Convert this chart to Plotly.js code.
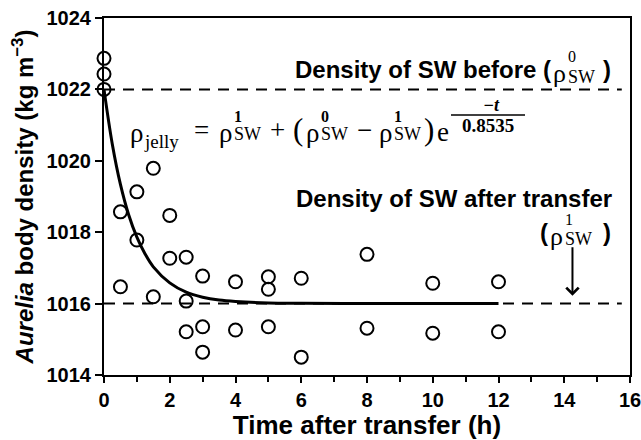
<!DOCTYPE html>
<html>
<head>
<meta charset="utf-8">
<script src="https://cdn.plot.ly/plotly-3.0.1.min.js"></script>
<style>html,body{margin:0;padding:0;background:#fff;}</style>
</head>
<body>
<div id="chart" style="width:641px;height:440px;"></div>
<script>
// ---- data ----
const obsTime = [0, 0, 0,
  0.5, 0.5, 1, 1, 1.5, 1.5, 2, 2,
  2.5, 2.5, 2.5, 3, 3, 3, 4, 4,
  5, 5, 5, 6, 6, 8, 8, 10, 10, 12, 12];
const obsDensity = [1022.87, 1022.43, 1022.0,
  1018.57, 1016.47, 1019.13, 1017.78, 1019.79, 1016.19, 1018.47, 1017.27,
  1017.30, 1016.07, 1015.21, 1016.77, 1015.35, 1014.64, 1016.61, 1015.26,
  1016.75, 1016.40, 1015.35, 1016.71, 1014.50, 1017.38, 1015.31, 1016.57, 1015.17, 1016.61, 1015.21];
// fitted curve
const fitTime = [0, 0.25, 0.5, 0.75, 1, 1.25, 1.5, 2, 2.5, 3, 3.5, 4, 5, 6, 8, 10, 12];
const fitDensity = [1022.00, 1020.48, 1019.34, 1018.49, 1017.86, 1017.39, 1017.03, 1016.58,
  1016.32, 1016.18, 1016.10, 1016.06, 1016.02, 1016.01, 1016.00, 1016.00, 1016.00];
// reference seawater densities (dashed lines)
const refTime = [0, 15.75];
const densityBefore = [1022, 1022];
const densityAfter = [1016, 1016];
const arrowTime = [14.25, 14.25];
const arrowDensity = [1017.62, 1016.22];
const xTicks = [0, 2, 4, 6, 8, 10, 12, 14, 16];
const yTicks = [1014, 1016, 1018, 1020, 1022, 1024];

const SANS = "Liberation Sans, Arial, sans-serif";
const SERIF = "Liberation Serif, Times New Roman, serif";
const L = 104, R = 11, T = 18, B = 65, W = 641, H = 440;
const PW = W - L - R, PH = H - T - B;

function ann(text, px, py, size, family, extra) {
  return Object.assign({
    xref: 'paper', yref: 'paper',
    x: (px - L) / PW, y: (H - B - py) / PH,
    text: text, showarrow: false, xanchor: 'left', yanchor: 'middle',
    borderpad: 0,
    font: {family: family, size: size, color: 'black'}
  }, extra || {});
}

const traces = [
  {x: refTime, y: densityBefore, mode: 'lines', line: {color: 'black', width: 2, dash: '11px,8px'}, hoverinfo: 'skip'},
  {x: refTime, y: densityAfter, mode: 'lines', line: {color: 'black', width: 2, dash: '11px,8px'}, hoverinfo: 'skip'},
  {x: fitTime, y: fitDensity, mode: 'lines', line: {color: 'black', width: 3, shape: 'spline'}},
  {x: obsTime, y: obsDensity, mode: 'markers', cliponaxis: false,
   marker: {symbol: 'circle-open', size: 13, color: 'black', line: {width: 2, color: 'black'}}}
];

const C = {xanchor: 'center'};
const annotations = [
  // before label
  ann('<b>Density of SW before (</b>', 552, 69, 24, SANS, {xanchor: 'right'}),
  ann('ρ', 552, 73, 26, SERIF),
  ann('0', 567, 57, 16, SERIF),
  ann('SW', 567, 77, 18, SERIF),
  ann('<b>)</b>', 602, 69, 24, SANS),
  // after label
  ann('<b>Density of SW after transfer</b>', 613, 198, 24, SANS, {xanchor: 'right'}),
  ann('<b>(</b>', 539, 232, 24, SANS),
  ann('ρ', 549, 236, 26, SERIF),
  ann('1', 564, 219, 16, SERIF),
  ann('SW', 564, 239, 18, SERIF),
  ann('<b>)</b>', 602, 232, 24, SANS),
  // equation
  ann('ρ', 129, 133, 27, SERIF),
  ann('jelly', 143, 141, 19, SERIF),
  ann('=', 201, 130, 27, SERIF, C),
  ann('ρ', 218, 133, 27, SERIF),
  ann('<b>1</b>', 233, 116, 16, SERIF),
  ann('SW', 233, 134, 18, SERIF),
  ann('+', 277, 130, 27, SERIF, C),
  ann('(', 298, 129, 31, SERIF, C),
  ann('ρ', 305, 133, 27, SERIF),
  ann('<b>0</b>', 320, 116, 16, SERIF),
  ann('SW', 320, 134, 18, SERIF),
  ann('−', 364, 130, 27, SERIF, C),
  ann('ρ', 378, 133, 27, SERIF),
  ann('<b>1</b>', 393, 116, 16, SERIF),
  ann('SW', 393, 134, 18, SERIF),
  ann(')', 429, 129, 31, SERIF, C),
  ann('e', 436, 132, 27, SERIF),
  ann('<b><i>−t</i></b>', 491, 105, 18, SERIF, C),
  ann('<b>0.8535</b>', 488, 125, 19, SERIF, C),
  // arrow to the after-transfer line
  {xref: 'x', yref: 'y', axref: 'x', ayref: 'y',
   x: arrowTime[1], y: arrowDensity[1], ax: arrowTime[0], ay: arrowDensity[0],
   text: '', showarrow: true, arrowhead: 4, arrowsize: 1.2, arrowwidth: 2, arrowcolor: 'black', standoff: 0}
];

const shapes = [
  // fraction bar
  {type: 'line', xref: 'paper', yref: 'paper',
   x0: (451 - L) / PW, x1: (525 - L) / PW, y0: (H - B - 115) / PH, y1: (H - B - 115) / PH,
   line: {color: 'black', width: 1.5}}
];

const axisCommon = {
  showgrid: false, zeroline: false, showline: true, linewidth: 2, linecolor: 'black',
  mirror: true, ticks: 'outside', tickwidth: 2, tickcolor: 'black',
  ticklabeloverflow: 'allow',
  tickfont: {family: SANS, size: 20, color: 'black', weight: 'bold'}
};

const layout = {
  width: W, height: H,
  margin: {l: L, r: R, t: T, b: B},
  paper_bgcolor: 'white', plot_bgcolor: 'white',
  showlegend: false,
  font: {family: SANS, color: 'black'},
  xaxis: Object.assign({}, axisCommon, {
    range: [0, 16], tickvals: xTicks, ticklen: 6,
    minor: {dtick: 1, tick0: 0, ticks: 'outside', ticklen: 5, tickwidth: 2, tickcolor: 'black'},
    title: {text: 'Time after transfer (h)', font: {family: SANS, size: 26, weight: 'bold', color: 'black'}, standoff: 0}
  }),
  yaxis: Object.assign({}, axisCommon, {
    range: [1014, 1024], tickvals: yTicks, ticklen: 7,
    title: {text: '<i>Aurelia</i> body density (kg m<sup>−3</sup>)', font: {family: SANS, size: 24, weight: 'bold', color: 'black'}, standoff: 6}
  }),
  annotations: annotations,
  shapes: shapes
};

Plotly.newPlot('chart', traces, layout, {displayModeBar: false, staticPlot: true});
</script>
</body>
</html>
